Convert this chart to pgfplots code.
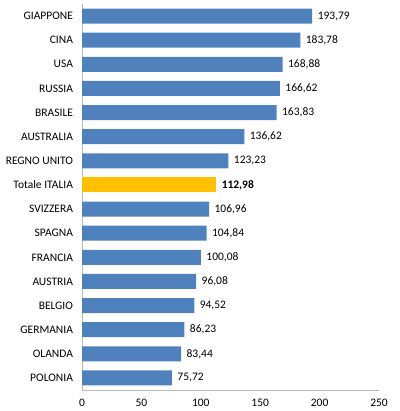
\documentclass[border=0pt]{standalone}
\usepackage{pgfplots}
\pgfplotsset{compat=1.18}
\usepackage{fontspec}
\setmainfont{Carlito}
\definecolor{barblue}{HTML}{4F81BD}
\definecolor{bargold}{HTML}{FFC000}
\begin{document}
\fontsize{11.5}{13}\selectfont
\begin{tikzpicture}
\path[use as bounding box] (-82pt,-21pt) rectangle (317pt,390pt);
\begin{axis}[at={(0,0)}, anchor=south west, scale only axis,
  width=297pt, height=386pt,
  xbar, bar width=15pt, bar shift=0pt,
  xmin=0, xmax=250, xtick={0,50,...,250},
  ymin=-0.5, ymax=15.5, ytick={0,...,15},
  yticklabels={POLONIA,OLANDA,GERMANIA,BELGIO,AUSTRIA,FRANCIA,SPAGNA,SVIZZERA,Totale ITALIA,REGNO UNITO,AUSTRALIA,BRASILE,RUSSIA,USA,CINA,GIAPPONE},
  axis x line*=bottom, axis y line*=left,
  axis line style={draw=gray!55, -, line width=0.8pt},
  major tick length=0pt, tick style={draw=none},
  /pgf/number format/assume math mode=true,
  xticklabel style={font=\fontsize{11.5}{13}\selectfont, yshift=-5pt},
  yticklabel style={font=\fontsize{11.5}{13}\selectfont, xshift=-5pt},
  nodes near coords,
  nodes near coords style={anchor=west, xshift=1.5pt, font=\fontsize{11.5}{13}\selectfont,
    /pgf/number format/use comma, /pgf/number format/fixed, /pgf/number format/precision=2,
    /pgf/number format/fixed zerofill, /pgf/number format/assume math mode=true},
]
\addplot[fill=barblue, draw=none] coordinates {
  (75.72,0) (83.44,1) (86.23,2) (94.52,3) (96.08,4) (100.08,5) (104.84,6) (106.96,7)
  (123.23,9) (136.62,10) (163.83,11) (166.62,12) (168.88,13) (183.78,14) (193.79,15)};
\addplot[fill=bargold, draw=none, every node near coord/.append style={font=\fontsize{11.5}{13}\selectfont\bfseries}] coordinates {(112.98,8)};
\end{axis}
\end{tikzpicture}
\end{document}
